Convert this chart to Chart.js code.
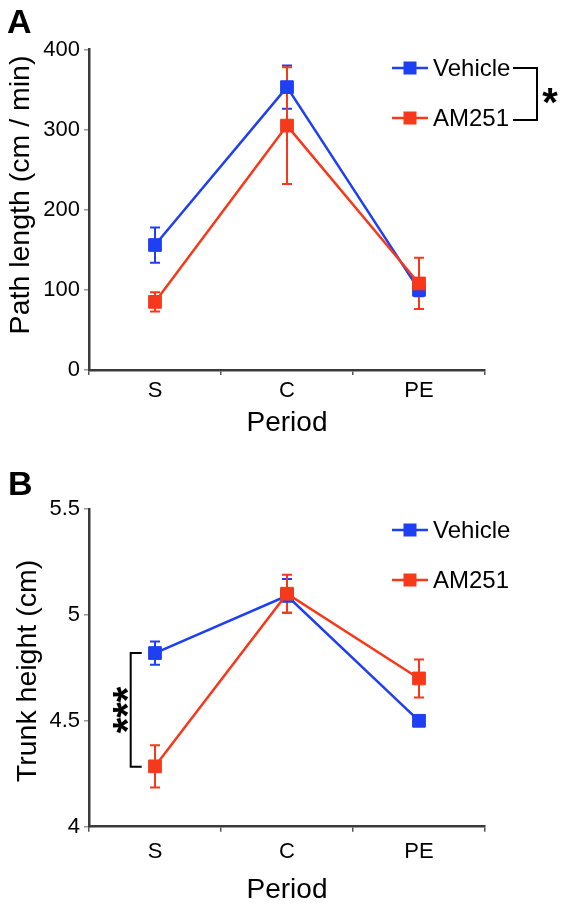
<!DOCTYPE html>
<html>
<head>
<meta charset="utf-8">
<script src="https://cdn.jsdelivr.net/npm/chart.js@4"></script>
<style>
  html, body { margin: 0; padding: 0; background: #fff; }
  #wrap { position: relative; width: 564px; height: 907px; }
  canvas { position: absolute; left: 0; }
</style>
</head>
<body>
<div id="wrap">
  <canvas id="chartA" width="564" height="450" style="top:0"></canvas>
  <canvas id="chartB" width="564" height="457" style="top:450px"></canvas>
</div>
<script>
// ---- data ----
const categories = ['S', 'C', 'PE'];
const seriesNames = ['Vehicle', 'AM251'];
const pathVehicle = [156, 353, 100];
const pathVehicleSem = [22, 27, 8];
const pathAM251 = [85, 305, 108];
const pathAM251Sem = [12, 73, 32];
const trunkVehicle = [4.82, 5.09, 4.50];
const trunkVehicleSem = [0.055, 0.08, 0.02];
const trunkAM251 = [4.285, 5.10, 4.70];
const trunkAM251Sem = [0.10, 0.09, 0.09];
const pathTicks = [0, 100, 200, 300, 400];
const trunkTicks = [4, 4.5, 5, 5.5];

const BLUE = '#1f3ff2';
const RED = '#f7391b';
const FONT = "'Liberation Sans', Arial, Helvetica, sans-serif";

const errorBars = {
  id: 'errorBars',
  beforeDatasetsDraw(chart) {
    const ctx = chart.ctx, ys = chart.scales.y;
    const idx = chart.data.datasets.map((d, i) => i).sort((a, b) => chart.data.datasets[b].order - chart.data.datasets[a].order);
    idx.forEach(i => {
      const ds = chart.data.datasets[i];
      const meta = chart.getDatasetMeta(i);
      ctx.save();
      ctx.strokeStyle = ds.borderColor;
      ctx.lineWidth = 2;
      meta.data.forEach((pt, j) => {
        const v = ds.data[j], e = ds.errors[j];
        const yt = ys.getPixelForValue(v + e), yb = ys.getPixelForValue(v - e);
        const x = pt.x;
        ctx.beginPath();
        ctx.moveTo(x, yt); ctx.lineTo(x, yb);
        ctx.moveTo(x - 5, yt); ctx.lineTo(x + 5, yt);
        ctx.moveTo(x - 5, yb); ctx.lineTo(x + 5, yb);
        ctx.stroke();
      });
      ctx.restore();
    });
  }
};

const annot = {
  id: 'annot',
  afterDraw(chart, args, o) {
    const ctx = chart.ctx;
    ctx.save();
    // panel letter
    ctx.fillStyle = '#000';
    ctx.font = 'bold 34px ' + FONT;
    ctx.textAlign = 'left';
    ctx.textBaseline = 'alphabetic';
    ctx.fillText(o.letter, o.letterX, o.letterY);
    // y title
    ctx.save();
    ctx.translate(o.yTitleX, o.yTitleY);
    ctx.rotate(-Math.PI / 2);
    ctx.font = '28.5px ' + FONT;
    ctx.textAlign = 'center';
    ctx.fillText(o.yTitle, 0, 0);
    ctx.restore();
    // legend
    chart.data.datasets.forEach((ds, i) => {
      const ly = o.legendY[i];
      ctx.strokeStyle = ds.borderColor;
      ctx.lineWidth = 2.5;
      ctx.beginPath();
      ctx.moveTo(o.legendX1, ly); ctx.lineTo(o.legendX2, ly);
      ctx.stroke();
      ctx.fillStyle = ds.borderColor;
      const cx = (o.legendX1 + o.legendX2) / 2;
      ctx.fillRect(cx - 6.5, ly - 6.5, 13, 13);
      ctx.fillStyle = '#000';
      ctx.font = '24px ' + FONT;
      ctx.textAlign = 'left';
      ctx.fillText(ds.label, o.legendTextX, ly + 8);
    });
    // significance bracket
    if (o.bracket) {
      const b = o.bracket;
      ctx.strokeStyle = '#000';
      ctx.lineWidth = 2;
      ctx.beginPath();
      ctx.moveTo(b.x1, b.y1); ctx.lineTo(b.x2, b.y1); ctx.lineTo(b.x2, b.y2); ctx.lineTo(b.x1, b.y2);
      ctx.stroke();
      ctx.fillStyle = '#000';
      ctx.font = 'bold 40px ' + FONT;
      ctx.textAlign = 'center';
      ctx.save();
      ctx.translate(b.sx, b.sy);
      if (b.rotate) ctx.rotate(-Math.PI / 2);
      ctx.fillText(b.stars, 0, 23);
      ctx.restore();
    }
    ctx.restore();
  }
};

function makeChart(id, cfg) {
  const step = cfg.ticks[1] - cfg.ticks[0];
  return new Chart(document.getElementById(id), {
    type: 'line',
    data: {
      labels: categories,
      datasets: [
        { label: seriesNames[0], data: cfg.v, errors: cfg.ve, borderColor: BLUE, backgroundColor: BLUE, order: 2,
          borderWidth: 2.5, pointStyle: 'rect', pointRadius: 9, pointBorderWidth: 1, tension: 0 },
        { label: seriesNames[1], data: cfg.a, errors: cfg.ae, borderColor: RED, backgroundColor: RED, order: 1,
          borderWidth: 2.5, pointStyle: 'rect', pointRadius: 9, pointBorderWidth: 1, tension: 0 }
      ]
    },
    options: {
      responsive: false,
      animation: false,
      devicePixelRatio: 1,
      layout: { padding: { left: 0, top: cfg.top, right: 79, bottom: 0 } },
      plugins: {
        legend: { display: false },
        tooltip: { enabled: false },
        annot: cfg.annot
      },
      scales: {
        x: {
          type: 'category',
          offset: true,
          grid: { display: true, drawOnChartArea: false, drawTicks: true, tickLength: 5, offset: true, color: '#555', lineWidth: 1.5 },
          border: { display: true, color: '#3a3a3a', width: 2.5 },
          ticks: { color: '#000', font: { family: FONT, size: 22 }, padding: cfg.xPad, maxRotation: 0 },
          title: { display: true, text: 'Period', color: '#000', font: { family: FONT, size: 28 }, padding: { top: 0, bottom: cfg.titlePad } },
          afterFit(s) { s.height = cfg.xh; }
        },
        y: {
          min: cfg.ticks[0],
          max: cfg.ticks[cfg.ticks.length - 1],
          grid: { drawOnChartArea: false, drawTicks: true, tickLength: 5, color: '#999', lineWidth: 1.5 },
          border: { display: true, color: '#3a3a3a', width: 2.5 },
          ticks: { stepSize: step, color: '#000', font: { family: FONT, size: 22 }, padding: 4,
                   callback: v => String(v) },
          afterFit(s) { s.width = 89; }
        }
      }
    },
    plugins: [errorBars, annot]
  });
}

makeChart('chartA', {
  v: pathVehicle, ve: pathVehicleSem, a: pathAM251, ae: pathAM251Sem, ticks: pathTicks,
  top: 49.5, xh: 80, xPad: 3, titlePad: 10,
  annot: {
    letter: 'A', letterX: 7, letterY: 33,
    yTitle: 'Path length (cm / min)', yTitleX: 29, yTitleY: 195,
    legendY: [68, 118], legendX1: 392, legendX2: 428, legendTextX: 433,
    bracket: { x1: 513, x2: 537, y1: 68, y2: 120, stars: '*', sx: 550, sy: 93, rotate: false }
  }
});

makeChart('chartB', {
  v: trunkVehicle, ve: trunkVehicleSem, a: trunkAM251, ae: trunkAM251Sem, ticks: trunkTicks,
  top: 59, xh: 80.3, xPad: 7, titlePad: 0,
  annot: {
    letter: 'B', letterX: 8, letterY: 45,
    yTitle: 'Trunk height (cm)', yTitleX: 36, yTitleY: 221,
    legendY: [80, 130], legendX1: 392, legendX2: 428, legendTextX: 433,
    bracket: { x1: 141.7, x2: 130.7, y1: 203, y2: 316.7, stars: '***', sx: 118, sy: 260, rotate: true }
  }
});
</script>
</body>
</html>
